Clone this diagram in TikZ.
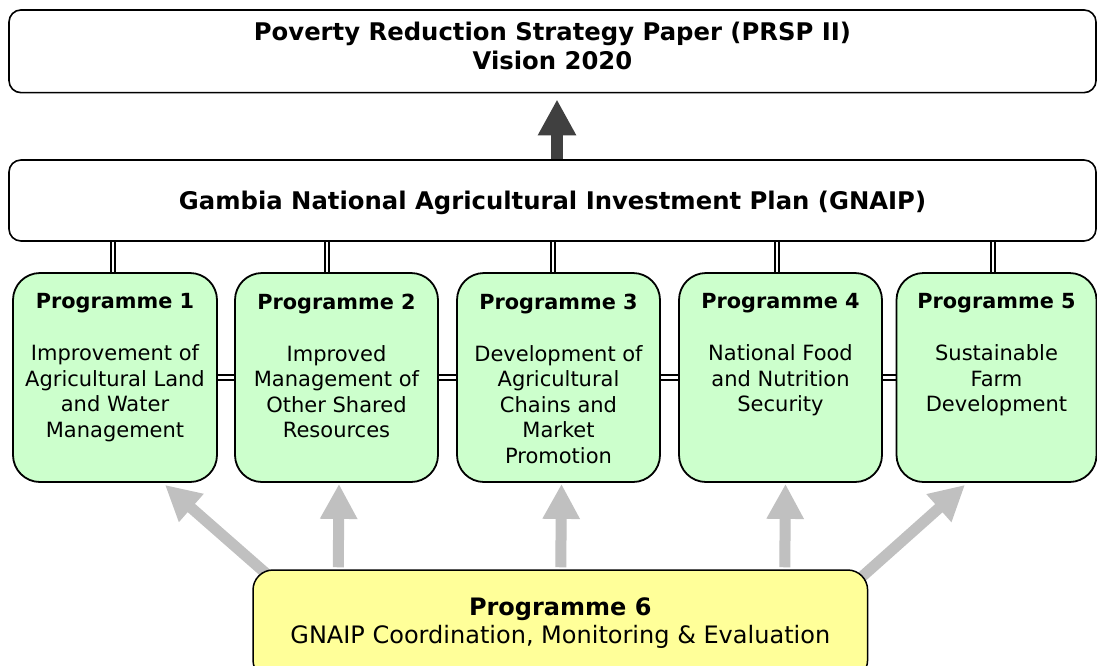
\documentclass[tikz,border=0pt]{standalone}
\usepackage{fontspec}
\setmainfont{DejaVu Sans}
\usetikzlibrary{arrows.meta,backgrounds}
\definecolor{pgreen}{HTML}{CCFFCC}
\definecolor{pyellow}{HTML}{FFFF99}
\definecolor{agray}{HTML}{C0C0C0}
\definecolor{adark}{HTML}{404040}
\newcommand\progtext[2]{\parbox[c][209pt][t]{200pt}{\centering\fontsize{21}{25.5}\selectfont\vspace*{20.8pt}{\bfseries\fontsize{20.8}{25.5}\selectfont Programme #1}\\[26.5pt]#2\par}}
\newcommand\toptext[3]{\parbox[c][#1][t]{1080pt}{\centering\bfseries\fontsize{24.3}{28.5}\selectfont\vspace*{#2}#3\par}}
\tikzset{
  topbox/.style={draw=black, line width=1.6pt, fill=white, rounded corners=12pt, inner sep=0pt, minimum width=1087pt},
  prog/.style={draw=black, line width=1.8pt, fill=pgreen, rounded corners=27pt, inner sep=0pt, minimum height=209pt},
  coord/.style={draw=black, line width=1.5pt, fill=pyellow, rounded corners=20pt, inner sep=0pt, minimum width=614.6pt, minimum height=110pt},
  dbl/.style={draw=black, line width=2.2pt, double=white, double distance=2.3pt},
  darrow/.style={draw=adark, line width=12pt, -{Triangle[width=36pt,length=36pt]}},
  garrow/.style={draw=agray, line width=11pt, -{Triangle[width=35pt,length=35pt]}}
}
\begin{document}
\begin{tikzpicture}[x=1pt,y=-1pt]
\useasboundingbox (0,0) rectangle (1097,665);
\node[topbox, minimum height=82.7pt] (prsp) at (552.5,51.3) {\toptext{82.7pt}{12.5pt}{Poverty Reduction Strategy Paper (PRSP II)\\Vision 2020}};
\node[topbox, minimum height=81pt] (gnaip) at (552.5,200.5) {\toptext{81pt}{31.5pt}{Gambia National Agricultural Investment Plan (GNAIP)}};
\node[prog, minimum width=204pt] (p1) at (115,377.5) {\progtext{1}{Improvement of\\Agricultural Land\\and Water\\Management}};
\node[prog, minimum width=203pt] (p2) at (336.5,377.5) {\progtext{2}{Improved\\Management of\\Other Shared\\Resources}};
\node[prog, minimum width=203pt] (p3) at (558.5,377.5) {\progtext{3}{Development of\\Agricultural\\Chains and\\Market\\Promotion}};
\node[prog, minimum width=203pt] (p4) at (780.5,377.5) {\progtext{4}{National Food\\and Nutrition\\Security}};
\node[prog, minimum width=195pt] (p5) at (996.5,377.5) {\progtext{5}{Sustainable\\Farm\\Development}};
\node[coord] (p6) at (560.3,625) {\parbox[c][110pt][t]{600pt}{\centering\fontsize{24}{28}\selectfont\vspace*{27.5pt}{\bfseries Programme 6}\\GNAIP Coordination, Monitoring \& Evaluation\par}};
\begin{scope}[on background layer]
\fill[white] (0,0) rectangle (1097,665);
\draw[darrow] ([xshift=4.5pt]gnaip.north) -- ([shift={(4.5,6)}]prsp.south);
\draw[dbl] ([xshift=-2pt]p1.north) -- ([xshift=-2pt]p1.north |- gnaip.south);
\draw[dbl] ([xshift=-9.5pt]p2.north) -- ([xshift=-9.5pt]p2.north |- gnaip.south);
\draw[dbl] ([xshift=-5.5pt]p3.north) -- ([xshift=-5.5pt]p3.north |- gnaip.south);
\draw[dbl] ([xshift=-3.5pt]p4.north) -- ([xshift=-3.5pt]p4.north |- gnaip.south);
\draw[dbl] ([xshift=-3.5pt]p5.north) -- ([xshift=-3.5pt]p5.north |- gnaip.south);
\draw[dbl] (p1.east) -- (p2.west);
\draw[dbl] (p2.east) -- (p3.west);
\draw[dbl] (p3.east) -- (p4.west);
\draw[dbl] (p4.east) -- (p5.west);
\draw[garrow] ([shift={(16.5,6.6)}]p6.north west) -- ([shift={(50,2)}]p1.south);
\draw[garrow] ([shift={(86,-2)}]p6.north west) -- ([shift={(2.5,1)}]p2.south);
\draw[garrow] ([shift={(308.5,-2)}]p6.north west) -- ([shift={(3,1)}]p3.south);
\draw[garrow] ([shift={(532.5,-2)}]p6.north west) -- ([shift={(5,1)}]p4.south);
\draw[garrow] ([shift={(-12.6,13)}]p6.north east) -- ([shift={(-31.5,2)}]p5.south);
\end{scope}
\end{tikzpicture}
\end{document}
